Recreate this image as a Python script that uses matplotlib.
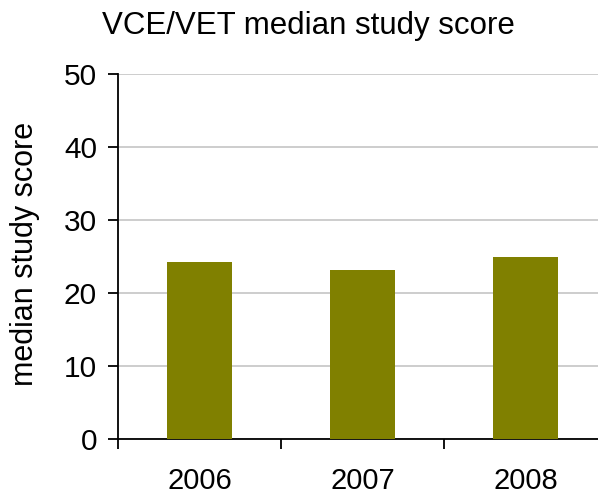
import matplotlib.pyplot as plt

years = ['2006', '2007', '2008']
median_scores = [24.3, 23.2, 25.0]

plt.rcParams['font.family'] = ['Liberation Sans', 'DejaVu Sans']

fig = plt.figure(figsize=(5.98, 4.97), dpi=100)
ax = fig.add_axes([0.198, 0.1157, 0.802, 0.7353])

x = list(range(len(years)))
ax.bar(x, median_scores, width=0.4, color='#808000', zorder=3)

ax.set_ylim(0, 50)
ax.set_yticks([0, 10, 20, 30, 40, 50])
ax.set_xlim(-0.5, 2.445)

# ticks at category boundaries, labels at centres
ax.set_xticks([-0.5, 0.5, 1.5])
ax.set_xticklabels([])
ax.set_xticks(x, minor=True)
ax.set_xticklabels(years, minor=True)
ax.tick_params(axis='x', which='major', direction='out', length=7.5, width=1.3)
ax.tick_params(axis='x', which='minor', length=0, pad=20, labelsize=21)
ax.tick_params(axis='y', direction='out', length=7.5, width=1.3, pad=8, labelsize=21.5)

ax.grid(axis='y', color='#c0c0c0', linewidth=1.1, zorder=0)
ax.set_axisbelow(True)

for side in ['top', 'right']:
    ax.spines[side].set_visible(False)
for side in ['left', 'bottom']:
    ax.spines[side].set_linewidth(1.3)

fig.text(0.17, 0.947, 'VCE/VET median study score', fontsize=22.5, va='center', ha='left')
fig.text(0.042, 0.49, 'median study score', fontsize=22, rotation=90, va='center', ha='center')

fig.savefig('out.png', dpi=100)
